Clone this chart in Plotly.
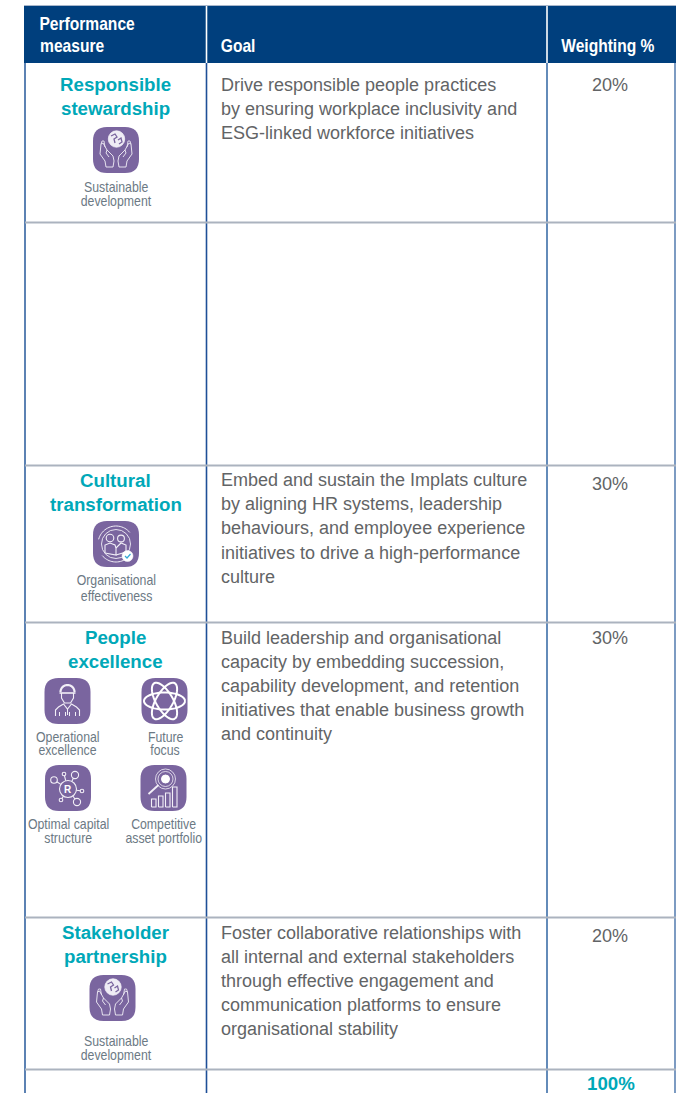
import math
import plotly.graph_objects as go

W, H = 679, 1093
NAVY, TEAL, PURPLE = "#003f7d", "#00a8b8", "#7a659f"
BODY, SUB = "#626466", "#6c7984"
BODY_FONT = "Liberation Sans"
NARROW = "Liberation Sans, NarrowMark"

header_measure = ["Performance", "measure"]
header_goal = "Goal"
header_weight = "Weighting %"

measures = [["Responsible", "stewardship"], ["Cultural", "transformation"],
            ["People", "excellence"], ["Stakeholder", "partnership"]]
goals = [
    ["Drive responsible people practices", "by ensuring workplace inclusivity and",
     "ESG-linked workforce initiatives"],
    ["Embed and sustain the Implats culture", "by aligning HR systems, leadership",
     "behaviours, and employee experience", "initiatives to drive a high-performance", "culture"],
    ["Build leadership and organisational", "capacity by embedding succession,",
     "capability development, and retention", "initiatives that enable business growth",
     "and continuity"],
    ["Foster collaborative relationships with", "all internal and external stakeholders",
     "through effective engagement and", "communication platforms to ensure",
     "organisational stability"],
]
weights = ["20%", "30%", "30%", "20%"]
total_weight = "100%"
labels = [
    ["Sustainable", "development"], ["Organisational", "effectiveness"],
    ["Operational", "excellence"], ["Future", "focus"],
    ["Optimal capital", "structure"], ["Competitive", "asset portfolio"],
    ["Sustainable", "development"],
]

shapes, annots = [], []


def txt(x, y, s, size, color, font=BODY_FONT, anchor="left", bold=False):
    t = f"<b>{s}</b>" if bold else s
    annots.append(dict(x=x, y=y, xref="x", yref="y", text=t, showarrow=False, xanchor=anchor,
                       yanchor="middle", font=dict(family=font, size=size, color=color),
                       borderpad=0, borderwidth=0))


def hline(y, x0, x1, c, w):
    shapes.append(dict(type="line", x0=x0, x1=x1, y0=y, y1=y, line=dict(color=c, width=w), layer="above"))


def vline(x, y0, y1, c, w):
    shapes.append(dict(type="line", x0=x, x1=x, y0=y0, y1=y1, line=dict(color=c, width=w), layer="above"))


def path(d, color="#f2eff7", width=1.0, fill=None):
    s = dict(type="path", path=d, line=dict(color=color, width=width), layer="above")
    if fill:
        s["fillcolor"] = fill
    shapes.append(s)


def circ(cx, cy, r, color="#f2eff7", width=1.0, fill=None):
    s = dict(type="circle", x0=cx - r, x1=cx + r, y0=cy - r, y1=cy + r,
             line=dict(color=color, width=width), layer="above")
    if fill:
        s["fillcolor"] = fill
    shapes.append(s)


def seg(cx, cy, pts):
    return "M" + " L".join(f"{cx + a:.2f},{cy + b:.2f}" for a, b in pts)


def arc(cx, cy, r, a0, a1, n=24, ry=None, rot=0):
    ry = r if ry is None else ry
    out = []
    c, s = math.cos(math.radians(rot)), math.sin(math.radians(rot))
    for i in range(n + 1):
        t = math.radians(a0 + (a1 - a0) * i / n)
        x, y = r * math.cos(t), ry * math.sin(t)
        out.append((cx + x * c - y * s, cy + x * s + y * c))
    return "M" + " L".join(f"{a:.2f},{b:.2f}" for a, b in out)


def badge(cx, cy):
    h, r = 23, 14
    x0, x1, y0, y1 = cx - h, cx + h, cy - h, cy + h
    path(f"M{x0 + r},{y0} L{x1 - r},{y0} Q{x1},{y0} {x1},{y0 + r} L{x1},{y1 - r} Q{x1},{y1} {x1 - r},{y1} "
         f"L{x0 + r},{y1} Q{x0},{y1} {x0},{y1 - r} L{x0},{y0 + r} Q{x0},{y0} {x0 + r},{y0} Z",
         color=PURPLE, width=0, fill=PURPLE)


def icon_hands(cx, cy):
    badge(cx, cy)
    circ(cx + 0.5, cy - 11, 8.2, width=0.8, fill="#efecf5")
    path(seg(cx, cy - 11, [(-5, -3), (-1, -5), (1, -2), (-2, 0), (-1, 4)]), color=PURPLE, width=1.3)
    path(seg(cx, cy - 11, [(2, 1), (5, -1), (6, 3), (3, 5)]), color=PURPLE, width=1.3)
    for m in (-1, 1):
        path(seg(cx, cy, [(m * 3, 17), (m * 2, 11), (m * 3, 6), (m * 9, 0), (m * 10, 3), (m * 7, 7)]), width=0.9)
        path(seg(cx, cy, [(m * 9, 0), (m * 13, -7), (m * 15, -6), (m * 16, 4), (m * 11, 11), (m * 10, 17), (m * 3, 17)]),
             width=0.9)
        path(seg(cx, cy, [(m * 11, -3), (m * 12, -9), (m * 14, -9), (m * 15, -6)]), width=0.8)


def icon_people(cx, cy):
    badge(cx, cy)
    path(arc(cx, cy, 18, 195, 320), width=1)
    path(arc(cx, cy, 18, 30, 140), width=1)
    circ(cx, cy, 14.5, width=0.9)
    circ(cx - 6, cy - 6, 3.8, width=1.1)
    circ(cx + 5, cy - 5.5, 3.4, width=1.1)
    path(seg(cx, cy, [(-11, 9), (-11, 1), (-6, -1), (-1, 1), (0, 4), (0, 11), (-11, 9)]), width=1.1)
    path(seg(cx, cy, [(0, 4), (5, -1), (10, 1), (10, 8), (0, 11)]), width=1.1)
    circ(cx + 11.5, cy + 12, 5.5, color="#ffffff", width=0.5, fill="#ffffff")
    path(seg(cx, cy, [(9, 12), (11, 14), (14.5, 10)]), color="#35a9d6", width=1.2)


def icon_worker(cx, cy):
    badge(cx, cy)
    path(seg(cx, cy, [(-6, -8), (-6, -3), (-3, 2), (3, 2), (6, -3), (6, -8)]), width=1.1)
    path(f"M{cx - 8},{cy - 8} L{cx + 8},{cy - 8}", width=1.6)
    path(arc(cx, cy - 9, 7, 180, 360), width=2.2)
    path(seg(cx, cy, [(-12, 15), (-12, 9), (-9, 6), (-4, 3), (0, 8), (4, 3), (9, 6), (12, 9), (12, 15)]), width=1.1)
    for a in (-8, -2, 2, 8):
        path(seg(cx, cy, [(a, 11), (a, 15)]), width=1)
    path(seg(cx, cy, [(0, 8), (0, 14)]), width=1)


def icon_atom(cx, cy):
    badge(cx, cy)
    for rot in (0, 60, 120):
        path(arc(cx, cy, 20.5, 0, 360, n=48, ry=8.5, rot=rot), color="#ffffff", width=2)


def icon_molecule(cx, cy):
    badge(cx, cy)
    circ(cx, cy + 1, 8.5, width=1.1)
    annots.append(dict(x=cx, y=cy + 1, xref="x", yref="y", text="<b>R</b>", showarrow=False,
                       font=dict(family=BODY_FONT, size=10, color="white")))
    for dx, dy, r in ((-14, -9, 3.3), (-4, -15, 1.8), (7, -14, 3.6), (14, 2, 1.8), (9, 13, 3.6), (-7, 11, 1.8)):
        n = math.hypot(dx, dy)
        path(seg(cx, cy + 1, [(dx / n * 8.5, dy / n * 8.5), (dx - dx / n * r, dy - dy / n * r)]), width=1.1)
        circ(cx + dx, cy + 1 + dy, r, width=1.1)


def icon_search(cx, cy):
    badge(cx, cy)
    circ(cx + 2, cy - 9, 10, width=0.8)
    circ(cx + 2, cy - 9, 7.5, width=0.8)
    circ(cx + 2, cy - 9, 4, color="#ffffff", width=1, fill="#ffffff")
    path(seg(cx, cy, [(-5, -3), (-15, 6)]), width=1.8)
    for x, top in ((-12, 11), (-5, 8), (2, 5), (9, -1)):
        path(seg(cx, cy, [(x, 19), (x, top), (x + 4.5, top), (x + 4.5, 19), (x, 19)]), width=1.1)


# ---- table frame
LEFT, C1, C2, RIGHT = 25, 206.5, 547, 675
TOP, HEAD = 6, 63
ROWS = [222.5, 465.5, 622.5, 917.5, 1069.5]
shapes.append(dict(type="rect", x0=LEFT - 1, x1=RIGHT + 1, y0=TOP, y1=HEAD, fillcolor=NAVY,
                   line=dict(width=0), layer="below"))
hline(TOP - 0.5, LEFT - 1, RIGHT + 1, "#a9b7cb", 1)
for x, c in ((LEFT, "#5c82b3"), (C1, "#1e4f97"), (C2, "#3d6ea8"), (RIGHT, "#5c82b3")):
    vline(x, HEAD, H, c, 2 if x == LEFT else 1.6)
vline(C1, TOP, HEAD, "white", 1.6)
vline(C2, TOP, HEAD, "white", 1.6)
for y in ROWS:
    hline(y, LEFT, RIGHT + 1, "#abb3bf", 2)

# ---- header
for y, s, x in zip((23.5, 45.5), header_measure, (87, 72)):
    txt(x, y, s, 19, "white", NARROW, "center", True)
txt(237.5, 45.5, header_goal, 19, "white", NARROW, "center", True)
txt(607.5, 45.5, header_weight, 19, "white", NARROW, "center", True)

# ---- rows
CX = 115.5
meas_y = [(84, 108), (480, 504), (637, 661), (932, 956)]
goal_y = [(85, 109, 133), (480, 504, 528, 553, 577), (638, 662, 686, 710, 734), (933, 957, 981, 1005, 1029)]
weight_y = [85, 484, 638, 936]
for m, ys in zip(measures, meas_y):
    for s, y in zip(m, ys):
        txt(CX, y, s, 18.7, TEAL, BODY_FONT, "center", True)
for g, ys in zip(goals, goal_y):
    for s, y in zip(g, ys):
        txt(221, y, s, 18, BODY, BODY_FONT)
for w, y in zip(weights, weight_y):
    txt(610, y, w, 18, BODY, BODY_FONT, "center")
txt(610.5, 1083.5, total_weight, 18.7, TEAL, BODY_FONT, "center", True)

label_pos = [(116, 186, 200), (116, 579, 595), (67.5, 736, 749), (165, 736, 749),
             (68, 823, 837), (163, 823, 837), (116, 1040, 1054)]
for (a, b), (x, y0, y1) in zip(labels, label_pos):
    txt(x, y0, a, 15, SUB, NARROW, "center")
    txt(x, y1, b, 15, SUB, NARROW, "center")

icon_hands(116, 150)
icon_people(116, 544)
icon_worker(67.5, 701)
icon_atom(164.5, 701)
icon_molecule(68, 788)
icon_search(163.5, 788)
icon_hands(112.5, 998)

fig = go.Figure()
fig.add_trace(go.Scatter(x=[0, W], y=[0, H], mode="markers", marker=dict(opacity=0), hoverinfo="skip", showlegend=False))
fig.update_layout(width=W, height=H, margin=dict(l=0, r=0, t=0, b=0), paper_bgcolor="white", plot_bgcolor="white",
                  showlegend=False, shapes=shapes, annotations=annots,
                  xaxis=dict(range=[0, W], visible=False, fixedrange=True),
                  yaxis=dict(range=[H, 0], visible=False, fixedrange=True))
# Condense the glyphs of the narrow-style labels (no condensed face is installed).
condense = """
document.body.style.margin='0';
document.querySelectorAll('.annotation-text').forEach(function(el){
  if((el.style.fontFamily||'').indexOf('NarrowMark')<0) return;
  var n=el.getComputedTextLength();
  el.setAttribute('lengthAdjust','spacingAndGlyphs');
  el.setAttribute('textLength',(n*0.82).toFixed(2));
});
"""
fig.write_html("out.html", config={"displayModeBar": False}, post_script=condense)
